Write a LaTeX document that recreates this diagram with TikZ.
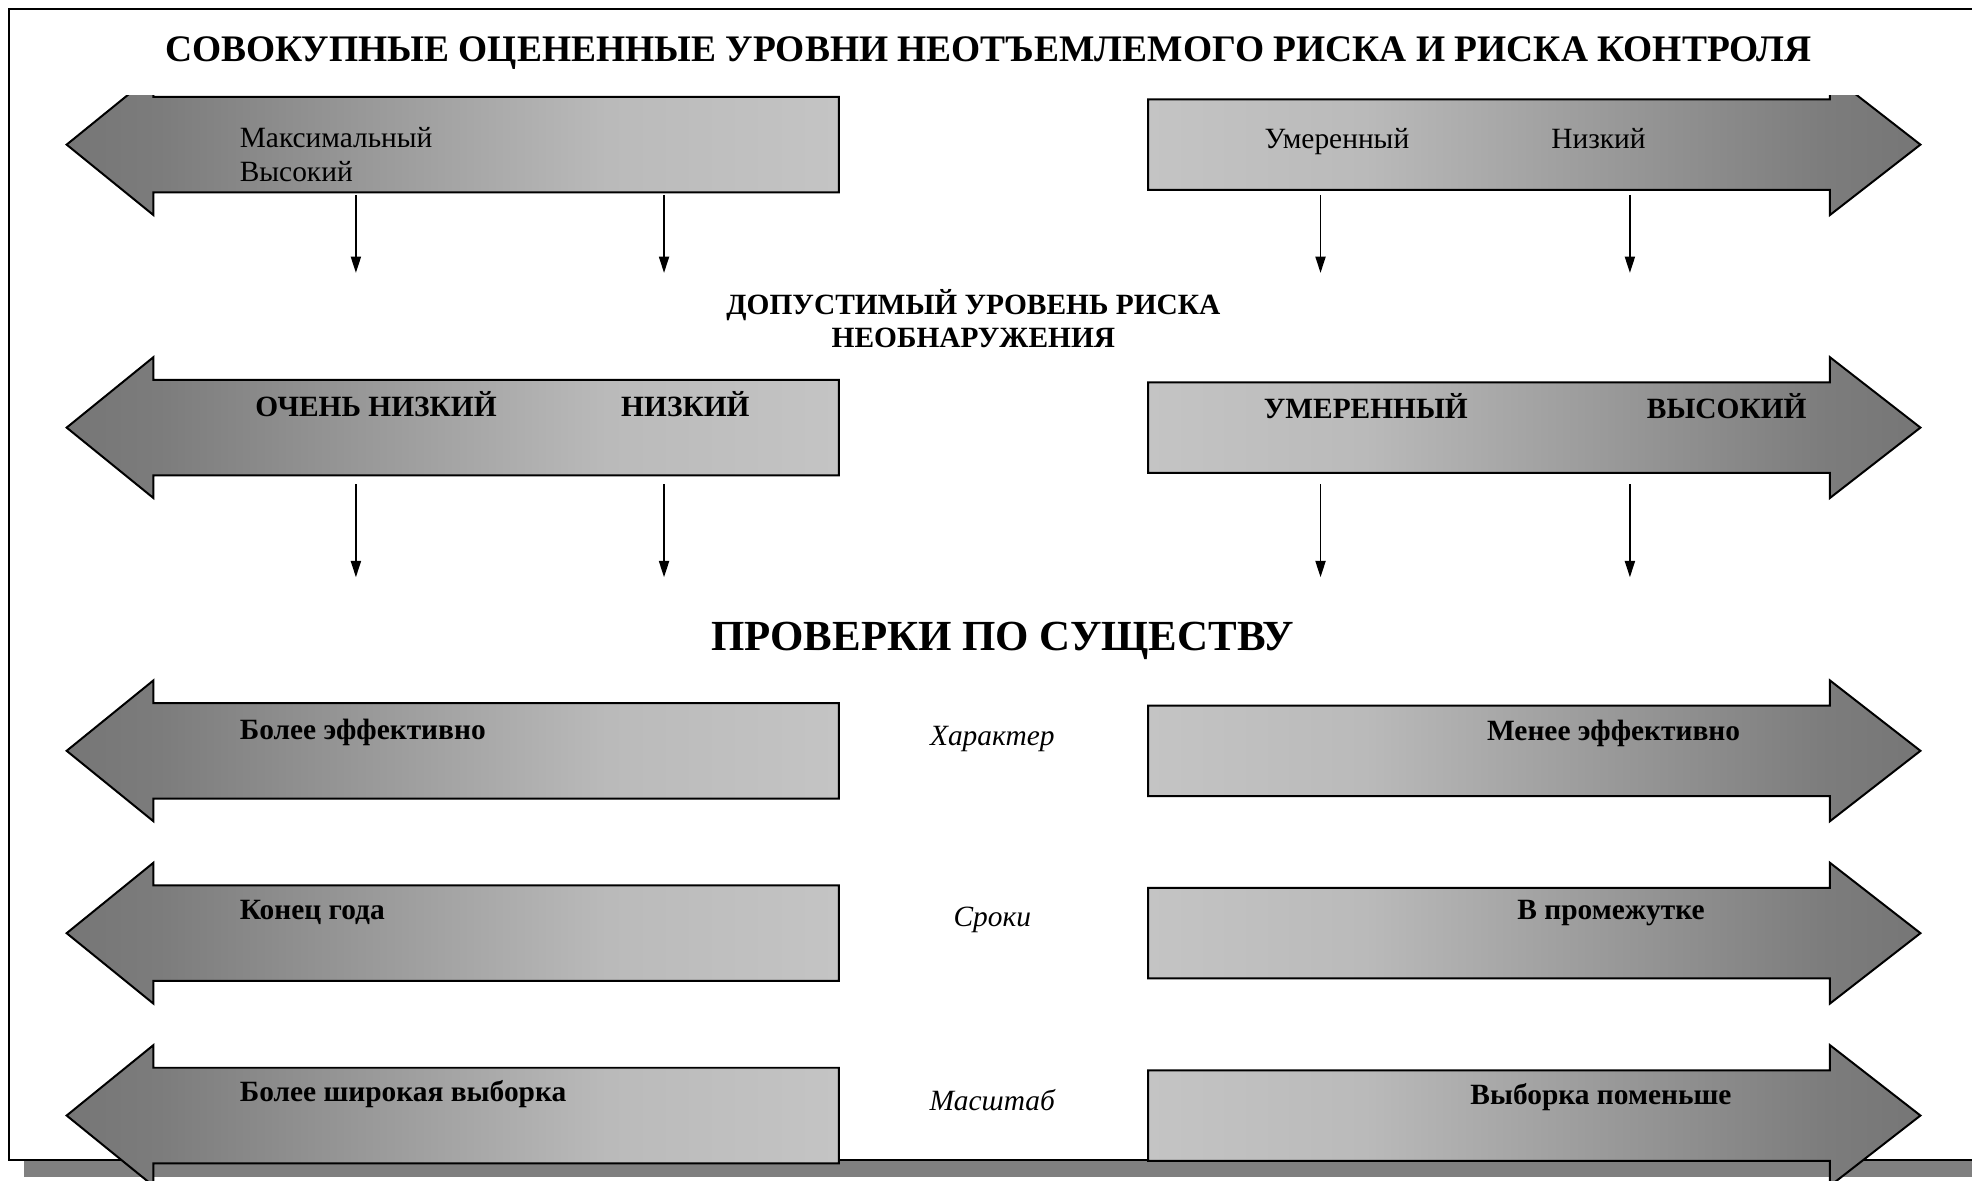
\documentclass[tikz,border=0pt]{standalone}
\usepackage{fontspec}
\setmainfont{Liberation Serif}
\usetikzlibrary{arrows.meta}
\definecolor{arrdark}{HTML}{767676}
\definecolor{arrmid}{HTML}{7C7C7C}
\definecolor{arrlite}{HTML}{BABABA}
\definecolor{arrpale}{HTML}{C4C4C4}
\definecolor{shadowgray}{HTML}{808080}
\pgfdeclarehorizontalshading{shadeL}{100bp}{color(0bp)=(arrdark); color(25bp)=(arrdark);
  color(31bp)=(arrmid); color(60bp)=(arrlite); color(75bp)=(arrpale); color(100bp)=(arrpale)}
\pgfdeclarehorizontalshading{shadeR}{100bp}{color(0bp)=(arrpale); color(25bp)=(arrpale);
  color(39bp)=(arrlite); color(69bp)=(arrmid); color(75bp)=(arrdark); color(100bp)=(arrdark)}
\tikzset{
  bigL/.style = {shade, shading=shadeL, draw=black, line width=0.45pt},
  bigR/.style = {shade, shading=shadeR, draw=black, line width=0.45pt},
  plain/.style = {font=\fontsize{6.65}{7.5}\selectfont, inner sep=0pt},
  strong/.style = {font=\fontsize{6.65}{8}\selectfont\bfseries, inner sep=0pt},
  slant/.style = {font=\fontsize{6.65}{8}\selectfont\itshape, inner sep=0pt},
  down/.style = {-{Triangle[length=0.13cm, width=0.08cm]}, line width=0.4pt}
}
\begin{document}
\begin{tikzpicture}[x=0.01cm, y=-0.01cm]
\useasboundingbox (0,0) rectangle (1568,939);
\begin{scope}
  \clip (0,0) rectangle (1568,939);
  % frame with shadow
  \fill[shadowgray] (19,19) rectangle (1600,936);
  \draw[fill=white, line width=0.45pt] (7,7) rectangle (1600,922);
  % big arrows
  \begin{scope}
    \clip (0,76) rectangle (1568,960);
    \foreach \c in {115,340,597,742,887}{
      \path[bigL] (667,\c-38) -- (122,\c-38) -- (122,\c-56) -- (53,\c)
        -- (122,\c+56) -- (122,\c+38) -- (667,\c+38) -- cycle;
      \path[bigR] (913,\c-36) -- (1455,\c-36) -- (1455,\c-56) -- (1527,\c)
        -- (1455,\c+56) -- (1455,\c+36) -- (913,\c+36) -- cycle;
    }
  \end{scope}
\end{scope}

% titles
\node[font=\fontsize{8.47}{10}\selectfont\bfseries, inner sep=0pt, anchor=base] (title) at (786,49)
  {СОВОКУПНЫЕ ОЦЕНЕННЫЕ УРОВНИ НЕОТЪЕМЛЕМОГО РИСКА И РИСКА КОНТРОЛЯ};
\node[strong, anchor=base] (dop) at (774,250) {ДОПУСТИМЫЙ УРОВЕНЬ РИСКА};
\node[strong, anchor=base] (neobn) at (774,276) {НЕОБНАРУЖЕНИЯ};
\node[font=\fontsize{9.7}{11}\selectfont\bfseries, inner sep=0pt, anchor=base] (prov) at (797,517)
  {ПРОВЕРКИ ПО СУЩЕСТВУ};

% row 1
\node[plain, anchor=base west] (maks) at (190,117) {Максимальный};
\node[plain, anchor=base west] (vysok) at (190,144) {Высокий};
\node[plain, anchor=base] (umer) at (1063,118) {Умеренный};
\node[plain, anchor=base] (nizk) at (1271,118) {Низкий};

% row 2
\node[strong, anchor=base] (ochn) at (299,331) {ОЧЕНЬ НИЗКИЙ};
\node[strong, anchor=base] (nizn) at (545,331) {НИЗКИЙ};
\node[strong, anchor=base] (umern) at (1086,333) {УМЕРЕННЫЙ};
\node[strong, anchor=base] (vysn) at (1373,333) {ВЫСОКИЙ};

% rows 3-5
\node[strong, anchor=base west] (bolef) at (190,588) {Более эффективно};
\node[slant, anchor=base] (harakt) at (789,593) {Характер};
\node[strong, anchor=base] (menef) at (1283,589) {Менее эффективно};
\node[strong, anchor=base west] (konec) at (190,731) {Конец года};
\node[slant, anchor=base] (sroki) at (789,737) {Сроки};
\node[strong, anchor=base] (vprom) at (1281,731) {В промежутке};
\node[strong, anchor=base west] (bolsh) at (190,876) {Более широкая выборка};
\node[slant, anchor=base] (masht) at (789,883) {Масштаб};
\node[strong, anchor=base] (vybor) at (1273,878) {Выборка поменьше};

% small arrows
\foreach \x/\n in {283/a,528/b,1050/c,1296/d}{
  \coordinate (top\n) at (\x,155);
  \coordinate (mid\n) at (\x,217);
  \coordinate (low\n) at (\x,385);
  \coordinate (end\n) at (\x,459);
  \draw[down] (top\n) -- (mid\n);
  \draw[down] (low\n) -- (end\n);
}
\end{tikzpicture}
\end{document}
